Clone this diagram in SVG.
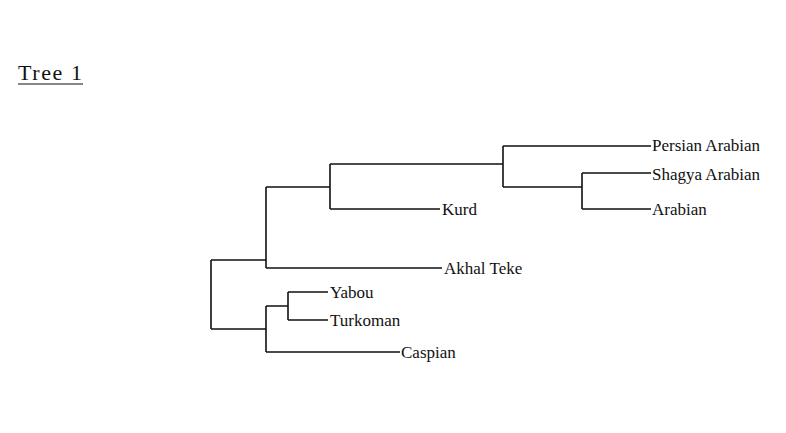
<svg xmlns="http://www.w3.org/2000/svg" width="786" height="433" viewBox="0 0 786 433">
<style>
.e{stroke:#111;stroke-width:1.6;fill:none}
text{font-family:"Liberation Serif",serif;font-size:17px;fill:#111}
</style>
<rect width="786" height="433" fill="#fff"/>
<g id="title"><text x="18" y="80" style="font-size:22px" textLength="64">Tree 1</text><line x1="18" y1="84" x2="83" y2="84" stroke="#111" stroke-width="1.2"/></g>
<g id="connectors">
<path class="e" d="M211,260V329M211,260H266M211,329H266"/>
<path class="e" d="M266,187V268M266,187H330M266,268H442"/>
<path class="e" d="M330,164V209M330,164H503M330,209H440"/>
<path class="e" d="M503,146V187M503,146H651M503,187H582"/>
<path class="e" d="M582,173V209M582,173H651M582,209H651"/>
<path class="e" d="M266,306V352M266,306H288M266,352H400"/>
<path class="e" d="M288,292V320M288,292H328M288,320H328"/>
</g>
<g id="n1"><text x="652" y="151">Persian Arabian</text></g>
<g id="n2"><text x="652" y="180">Shagya Arabian</text></g>
<g id="n3"><text x="652" y="215">Arabian</text></g>
<g id="n4"><text x="442" y="215">Kurd</text></g>
<g id="n5"><text x="444" y="274">Akhal Teke</text></g>
<g id="n6"><text x="330" y="298">Yabou</text></g>
<g id="n7"><text x="330" y="326">Turkoman</text></g>
<g id="n8"><text x="401" y="358">Caspian</text></g>
</svg>
